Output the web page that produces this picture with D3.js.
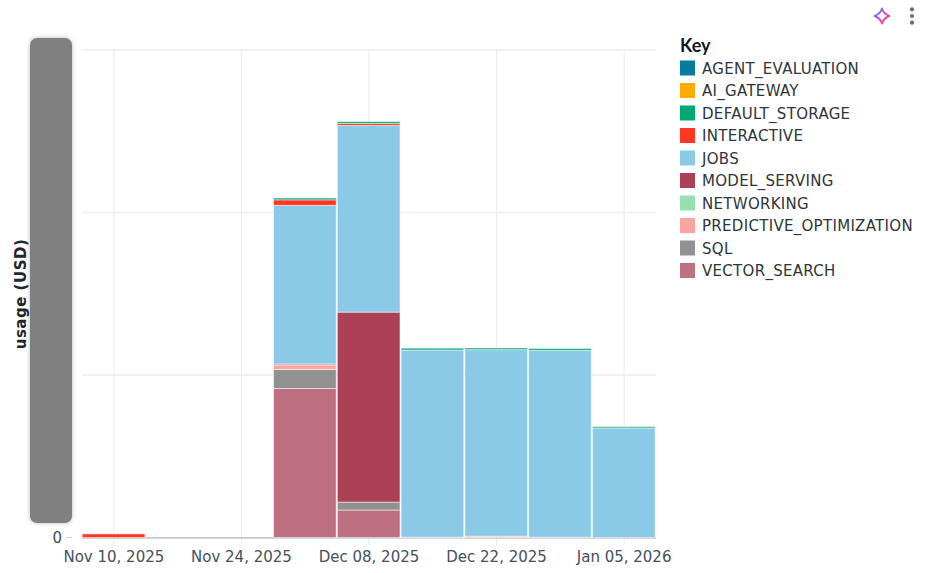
<!DOCTYPE html>
<html><head><meta charset="utf-8">
<script src="https://cdn.jsdelivr.net/npm/d3@7"></script>
<style>
html,body{margin:0;padding:0;background:#fff;overflow:hidden}
svg{display:block}
text{font-family:"DejaVu Sans",sans-serif;}
</style></head><body>
<svg id="c" width="929" height="573"></svg>
<script>
const weeks=["2025-11-10","2025-11-17","2025-11-24","2025-12-01","2025-12-08","2025-12-15","2025-12-22","2025-12-29","2026-01-05"];
const seriesNames=["AGENT_EVALUATION","AI_GATEWAY","DEFAULT_STORAGE","INTERACTIVE","JOBS","MODEL_SERVING","NETWORKING","PREDICTIVE_OPTIMIZATION","SQL","VECTOR_SEARCH"];
const seriesColors=["#077A9D","#FFAB00","#00A972","#FF3621","#8ACAE7","#AB4057","#99DDB4","#FCA4A1","#919191","#BF7080"];
const AGENT_EVALUATION=[0,0,0,0,0,0,0,0,0];
const AI_GATEWAY=[0,0,0,0,0,0,0,0,0];
const DEFAULT_STORAGE=[0,0,0,11,11,11,10,11,8];
const INTERACTIVE=[22,0,0,34,12,0,0,0,0];
const JOBS=[0,0,0,976,1149,1152,1148,1150,674];
const MODEL_SERVING=[0,0,0,6,1169,0,0,0,0];
const NETWORKING=[0,0,0,0,0,0,0,0,0];
const PREDICTIVE_OPTIMIZATION=[0,0,0,28,0,2,8,2,0];
const SQL=[0,0,0,117,49,0,0,0,0];
const VECTOR_SEARCH=[0,0,0,917,169,0,0,0,0];
const seriesValues=[AGENT_EVALUATION,AI_GATEWAY,DEFAULT_STORAGE,INTERACTIVE,JOBS,MODEL_SERVING,NETWORKING,PREDICTIVE_OPTIMIZATION,SQL,VECTOR_SEARCH];
const yGrid=[1000,2000,3000];
const yTickLabels=["0"];
const xTicks=["2025-11-10","2025-11-24","2025-12-08","2025-12-22","2026-01-05"];
const yAxisTitle="usage (USD)", legendTitle="Key";

const svg=d3.select("#c");
const DAY=864e5, p=s=>new Date(s+"T00:00:00Z");
const x=d3.scaleUtc().domain([new Date(+p(weeks[0])-3.5*DAY),new Date(+p(weeks[8])+3.5*DAY)]).range([82,656]);
const y=d3.scaleLinear().domain([0,3000]).range([537.5,50]);
const fmt=d3.utcFormat("%b %d, %Y");

// grid
svg.append("g").selectAll("line").data(yGrid).join("line")
 .attr("x1",82).attr("x2",656).attr("y1",d=>y(d)).attr("y2",d=>y(d)).attr("stroke","#eeeeee").attr("stroke-width",1.3);
svg.append("g").selectAll("line").data(xTicks).join("line")
 .attr("x1",d=>x(p(d))).attr("x2",d=>x(p(d))).attr("y1",50).attr("y2",545).attr("stroke","#eeeeee").attr("stroke-width",1.3);

// stack: bottom is the last series
const rows=weeks.map((w,i)=>{const r={week:w};seriesNames.forEach((n,k)=>r[n]=seriesValues[k][i]);return r;});
const stack=d3.stack().keys(seriesNames.slice().reverse())(rows);
const color=d3.scaleOrdinal(seriesNames,seriesColors);

// axis baseline
svg.append("line").attr("x1",82).attr("x2",656).attr("y1",y(0)+.4).attr("y2",y(0)+.4).attr("stroke","#c8c8c8").attr("stroke-width",1.6);

svg.append("g").selectAll("g").data(stack).join("g").attr("fill",d=>color(d.key))
 .selectAll("rect").data(d=>d.filter(e=>e[1]-e[0]>0)).join("rect")
 .attr("x",d=>x(new Date(+p(d.data.week)-3.5*DAY))+.2)
 .attr("width",d=>x(new Date(+p(d.data.week)+3.5*DAY))-x(new Date(+p(d.data.week)-3.5*DAY))-1.1)
 .attr("y",d=>y(d[1])).attr("height",d=>y(d[0])-y(d[1]))
 .attr("stroke","#fff").attr("stroke-opacity",.5).attr("stroke-width",1);

// x tick labels
svg.append("g").selectAll("text").data(xTicks).join("text")
 .attr("x",d=>x(p(d))).attr("y",562).attr("text-anchor","middle")
 .attr("font-size",15).attr("fill","#45505a").text(d=>fmt(p(d)));

// y axis: only the zero label shows, the others sit under the grey box
svg.append("line").attr("x1",66).attr("x2",72).attr("y1",y(0)).attr("y2",y(0)).attr("stroke","#ccc").attr("stroke-width",1);
svg.append("g").selectAll("text").data(yTickLabels).join("text")
 .attr("x",62).attr("y",d=>y(+d)+5).attr("text-anchor","end")
 .attr("font-size",15).attr("fill","#45505a").text(d=>d);

// grey box
const defs=svg.append("defs");
const f=defs.append("filter").attr("id","sh").attr("x","-30%").attr("y","-5%").attr("width","160%").attr("height","110%");
f.append("feDropShadow").attr("dx",0).attr("dy",0).attr("stdDeviation",2.2).attr("flood-color","#000").attr("flood-opacity",.28);
svg.append("rect").attr("x",30).attr("y",38).attr("width",42).attr("height",485).attr("rx",7)
 .attr("fill","#808080").attr("filter","url(#sh)");

// y axis title
svg.append("text").attr("transform","translate(25.5,294) rotate(-90)").attr("text-anchor","middle")
 .attr("font-size",15).attr("letter-spacing",.5).attr("font-weight",700).attr("fill","#1f272d").text(yAxisTitle);

// legend
svg.append("text").attr("x",680).attr("y",52).attr("font-size",18).attr("font-weight",700).attr("fill","#11171c")
 .style("font-family","Lato,sans-serif").text(legendTitle);
const lg=svg.append("g").selectAll("g").data(seriesNames).join("g")
 .attr("transform",(d,i)=>`translate(680,${60.5+i*22.5})`);
lg.append("rect").attr("width",15).attr("height",15).attr("fill",d=>color(d));
lg.append("text").attr("x",22).attr("y",13).attr("font-size",15).attr("letter-spacing",.3).attr("fill","#2d353b").text(d=>d);

// toolbar icons
const g=defs.append("linearGradient").attr("id","spark").attr("x1","0").attr("y1","0").attr("x2","1").attr("y2","1");
g.append("stop").attr("offset","0").attr("stop-color","#4299E0");
g.append("stop").attr("offset",".5").attr("stop-color","#CA42E0");
g.append("stop").attr("offset","1").attr("stop-color","#FF5F46");
svg.append("path").attr("transform","translate(882,16)")
 .attr("d","M0,-7.5 C1.4,-3.2 3.2,-1.4 7.5,0 C3.2,1.4 1.4,3.2 0,7.5 C-1.4,3.2 -3.2,1.4 -7.5,0 C-3.2,-1.4 -1.4,-3.2 0,-7.5Z")
 .attr("fill","none").attr("stroke","url(#spark)").attr("stroke-width",1.9).attr("stroke-linejoin","round");
svg.append("g").selectAll("circle").data([-6.7,0,6.7]).join("circle")
 .attr("cx",912).attr("cy",d=>16+d).attr("r",2.1).attr("fill","#5f7281");
</script></body></html>
